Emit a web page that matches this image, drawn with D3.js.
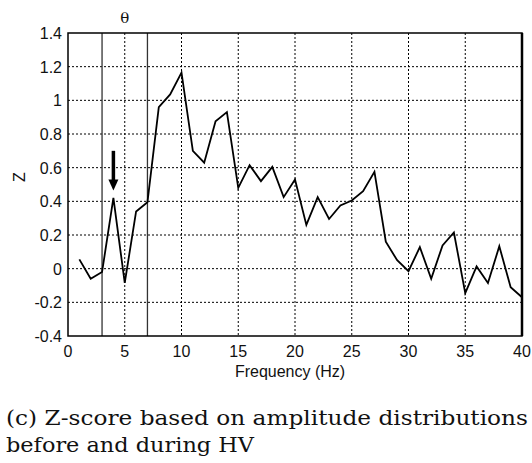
<!DOCTYPE html>
<html>
<head>
  <style>
    body { margin: 0; background: #fff; }
    svg { display: block; }
    .tick-label { font-family: "Liberation Sans", Arial, sans-serif; font-size: 16px; fill: #111; }
    .caption { font-family: "DejaVu Serif", serif; font-size: 20px; fill: #111; }
  </style>
</head>
<body>
<script src="https://d3js.org/d3.v7.min.js"></script>
<script>
  // Z-score per frequency bin (1..40 Hz)
  const freqs = d3.range(1, 41);
  const zScores = [
    0.055, -0.06, -0.02, 0.42, -0.085, 0.34, 0.395, 0.96, 1.035, 1.165,
    0.70, 0.63, 0.875, 0.93, 0.48, 0.615, 0.52, 0.605, 0.425, 0.53,
    0.26, 0.425, 0.295, 0.375, 0.405, 0.46, 0.575, 0.16, 0.05, -0.015,
    0.128, -0.06, 0.138, 0.215, -0.145, 0.013, -0.085, 0.133, -0.11, -0.17
  ];
  const xTicks = [0, 5, 10, 15, 20, 25, 30, 35, 40];
  const yTicks = [-0.4, -0.2, 0, 0.2, 0.4, 0.6, 0.8, 1, 1.2, 1.4];
  const thetaBand = [3, 7];
  const arrowAt = { freq: 4, from: 0.70, to: 0.465 };

  const margin = { top: 33, right: 10, bottom: 127, left: 68 };
  const width = 454;
  const height = 303;

  const svg = d3.select("body").append("svg")
    .attr("width", 532)
    .attr("height", 463);

  const chart = svg.append("g")
    .attr("transform", `translate(${margin.left}, ${margin.top})`);

  const xScale = d3.scaleLinear().domain([0, 40]).range([0, width]);
  const yScale = d3.scaleLinear().domain([-0.4, 1.4]).range([height, 0]);

  // dotted grid
  chart.append("g")
    .selectAll("line")
    .data(xTicks.slice(1, -1))
    .join("line")
    .attr("x1", d => xScale(d)).attr("x2", d => xScale(d))
    .attr("y1", 0).attr("y2", height)
    .attr("stroke", "#000").attr("stroke-width", 1)
    .attr("stroke-dasharray", "2,2");

  chart.append("g")
    .selectAll("line")
    .data(yTicks.slice(1, -1))
    .join("line")
    .attr("x1", 0).attr("x2", width)
    .attr("y1", d => yScale(d)).attr("y2", d => yScale(d))
    .attr("stroke", "#000").attr("stroke-width", 1)
    .attr("stroke-dasharray", "2,2");

  // theta band boundaries
  chart.append("g")
    .selectAll("line")
    .data(thetaBand)
    .join("line")
    .attr("x1", d => xScale(d)).attr("x2", d => xScale(d))
    .attr("y1", 0).attr("y2", height)
    .attr("stroke", "#333").attr("stroke-width", 1.3);

  // data line
  const line = d3.line()
    .x((d, i) => xScale(freqs[i]))
    .y(d => yScale(d));

  chart.append("path")
    .datum(zScores)
    .attr("d", line)
    .attr("fill", "none")
    .attr("stroke", "#000")
    .attr("stroke-width", 1.8)
    .attr("stroke-linejoin", "miter");

  // axes box
  chart.append("rect")
    .attr("x", 0).attr("y", 0)
    .attr("width", width).attr("height", height)
    .attr("fill", "none").attr("stroke", "#000").attr("stroke-width", 1.5);
  chart.append("line")
    .attr("x1", width).attr("x2", width)
    .attr("y1", 0).attr("y2", height)
    .attr("stroke", "#000").attr("stroke-width", 2.5);

  // tick labels
  chart.append("g")
    .selectAll("text")
    .data(xTicks)
    .join("text")
    .attr("class", "tick-label")
    .attr("x", d => xScale(d))
    .attr("y", height + 21)
    .attr("text-anchor", "middle")
    .text(d => d);

  chart.append("g")
    .selectAll("text")
    .data(yTicks)
    .join("text")
    .attr("class", "tick-label")
    .attr("x", -6)
    .attr("y", d => yScale(d) + 6)
    .attr("text-anchor", "end")
    .text(d => d3.format("~g")(d).replace("−", "-"));

  // axis labels
  svg.append("text")
    .attr("class", "tick-label")
    .attr("x", 290)
    .attr("y", 377)
    .attr("text-anchor", "middle")
    .text("Frequency (Hz)");

  svg.append("text")
    .attr("class", "tick-label")
    .attr("transform", "translate(25, 177) rotate(-90)")
    .attr("text-anchor", "middle")
    .text("Z");

  // theta label
  svg.append("text")
    .attr("class", "caption")
    .style("font-size", "15px")
    .attr("x", margin.left + xScale(5))
    .attr("y", 23)
    .attr("text-anchor", "middle")
    .text("θ");

  // arrow marking 4 Hz
  const ax = xScale(arrowAt.freq);
  const yTop = yScale(arrowAt.from);
  const yTip = yScale(arrowAt.to);
  chart.append("line")
    .attr("x1", ax).attr("x2", ax)
    .attr("y1", yTop).attr("y2", yTip - 8)
    .attr("stroke", "#000").attr("stroke-width", 3.5);
  chart.append("path")
    .attr("d", `M${ax - 5},${yTip - 11} L${ax + 5},${yTip - 11} L${ax},${yTip} Z`)
    .attr("fill", "#000");

  // caption
  svg.append("text")
    .attr("class", "caption")
    .attr("x", 6)
    .attr("y", 425)
    .attr("textLength", 522)
    .attr("lengthAdjust", "spacingAndGlyphs")
    .text("(c) Z-score based on amplitude distributions");

  svg.append("text")
    .attr("class", "caption")
    .attr("x", 6)
    .attr("y", 452)
    .attr("textLength", 248)
    .attr("lengthAdjust", "spacingAndGlyphs")
    .text("before and during HV");
</script>
</body>
</html>
